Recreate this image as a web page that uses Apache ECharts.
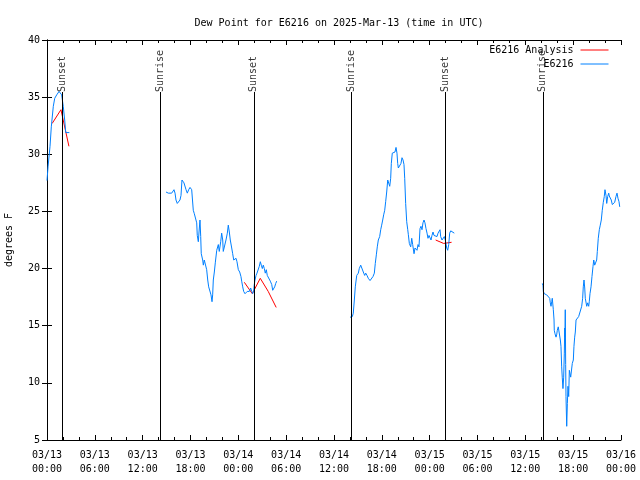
<!DOCTYPE html>
<html>
<head>
<meta charset="utf-8">
<script src="https://cdn.jsdelivr.net/npm/echarts@6/dist/echarts.min.js"></script>
<style>
html,body{margin:0;padding:0;background:#fff;}
#chart{width:640px;height:480px;}
</style>
</head>
<body>
<div id="chart"></div>
<script>
// ---- data (hours since 2025-03-13 00:00 UTC) ----
const tickLabels = ['03/13\n00:00','03/13\n06:00','03/13\n12:00','03/13\n18:00','03/14\n00:00','03/14\n06:00','03/14\n12:00','03/14\n18:00','03/15\n00:00','03/15\n06:00','03/15\n12:00','03/15\n18:00','03/16\n00:00'];

const sunHours = [1.93, 14.25, 25.95, 38.22, 49.97, 62.2];
const sunNames = ['Sunset','Sunrise','Sunset','Sunrise','Sunset','Sunrise'];

const anaHours1 = [0.65, 1.75, 2.75];
const anaVals1  = [32.7, 33.9, 30.7];
const anaHours2 = [24.75, 25.75, 26.75, 27.75, 28.75];
const anaVals2  = [18.8, 17.8, 19.15, 18.0, 16.6];
const anaHours3 = [48.75, 49.75, 50.75];
const anaVals3  = [22.5, 22.2, 22.3];

const obsHours1 = [0.00,0.13,0.38,0.54,0.79,0.97,1.22,1.38,1.51,1.72,1.84,2.04,2.22,2.35,2.55,2.80];
const obsVals1  = [27.7,28.9,30.7,32.4,34.2,34.9,35.2,35.2,35.5,35.5,35.2,34.2,33.0,31.9,31.9,31.9];

const obsHours2 = [14.93,15.22,15.43,15.64,15.93,16.06,16.18,16.34,16.52,16.68,16.81,16.93,17.02,17.18,17.31,17.44,17.60,17.77,17.94,18.15,18.28,18.35,18.48,18.69,18.78,18.85,18.98,19.07,19.19,19.28,19.35,19.53,19.61,19.73,19.94,20.03,20.16,20.28,20.45,20.57,20.70,20.78,20.86,20.99,21.11,21.29,21.49,21.61,21.79,21.91,22.04,22.11,22.33,22.45,22.62,22.74,22.87,22.99,23.17,23.29,23.42,23.58,23.71,23.83,24.00,24.17,24.33,24.42,24.55,24.67,24.84,25.00,25.12,25.25,25.38,25.55,25.68,25.80,25.93,26.00,26.09,26.22,26.34,26.51,26.63,26.76,26.88,27.01,27.13,27.26,27.38,27.51,27.63,27.76,27.88,28.01,28.19,28.31,28.44,28.56,28.69,28.81];
const obsVals2  = [26.7,26.6,26.5,26.6,26.9,26.6,26.0,25.7,25.85,26.0,26.4,27.75,27.9,27.5,27.5,26.9,26.6,26.9,27.1,26.9,26.8,25.1,24.8,24.7,24.0,22.9,22.35,23.2,24.25,22.8,21.3,20.75,20.3,20.75,20.8,19.9,19.0,18.4,18.3,17.7,17.1,17.7,19.0,19.7,20.5,21.6,22.1,21.5,22.35,23.1,22.5,21.5,21.5,22.5,23.1,23.8,23.2,22.5,21.8,21.3,20.75,20.6,20.9,20.6,19.9,19.7,19.3,18.9,18.4,18.0,17.8,17.7,18.0,18.1,18.0,18.3,18.0,17.8,18.1,18.6,19.0,19.4,19.6,19.7,20.2,20.6,20.3,20.0,20.3,20.0,19.6,19.9,19.4,19.3,19.4,18.9,18.6,18.1,18.0,18.4,18.7,18.9];

const obsHours3 = [38.01,38.30,38.42,38.55,38.67,38.85,39.05,39.17,39.35,39.47,39.60,39.73,39.85,39.98,40.14,40.30,40.52,40.73,40.89,41.06,41.18,41.31,41.43,41.56,41.73,41.86,41.98,42.11,42.23,42.36,42.48,42.61,42.74,42.86,42.99,43.11,43.19,43.31,43.49,43.65,43.78,43.90,43.99,44.07,44.28,44.40,44.53,44.66,44.78,44.87,44.99,45.12,45.25,45.32,45.45,45.62,45.75,45.87,46.04,46.16,46.29,46.41,46.54,46.66,46.79,46.91,47.04,47.16,47.29,47.41,47.54,47.67,47.79,47.92,48.04,48.17,48.29,48.42,48.54,48.67,48.79,48.92,49.05,49.17,49.30,49.38,49.55,49.71,49.84,49.96,50.14,50.26,50.39,50.51,50.64,50.84,51.09];
const obsVals3  = [15.74,15.8,16.1,17.25,18.4,19.4,19.6,20.0,20.3,20.45,20.2,19.6,19.4,19.6,19.4,19.15,18.95,19.05,19.3,19.6,20.45,21.2,21.9,22.5,22.8,23.4,23.8,24.25,24.7,25.1,25.85,26.7,27.75,27.6,27.2,27.9,29.2,30.1,30.0,30.2,30.6,30.1,29.2,28.8,28.8,29.2,29.7,29.5,29.1,27.9,25.7,24.1,23.4,23.0,22.2,21.9,22.65,22.1,21.3,21.8,21.9,21.6,22.1,21.9,23.5,23.7,23.4,24.0,24.25,24.0,23.5,23.1,22.65,22.9,22.9,22.5,22.9,23.2,22.9,22.8,22.9,22.8,23.1,23.2,23.4,22.8,22.5,22.65,22.8,22.5,21.8,21.6,22.1,23.1,23.3,23.3,23.1];

const obsHours4 = [62.13,62.22,62.26,62.38,62.68,62.88,63.06,63.13,63.22,63.31,63.38,63.47,63.51,63.60,63.63,63.72,63.85,63.93,64.01,64.13,64.31,64.39,64.47,64.56,64.63,64.72,64.81,64.89,64.94,64.97,65.01,65.06,65.10,65.19,65.27,65.35,65.44,65.52,65.60,65.69,65.82,65.89,66.02,66.10,66.19,66.27,66.36,66.57,66.69,66.86,67.07,67.19,67.27,67.36,67.45,67.52,67.70,67.82,67.95,68.02,68.11,68.24,68.36,68.49,68.58,68.70,68.83,68.95,69.03,69.15,69.28,69.40,69.53,69.65,69.78,69.90,69.99,70.12,70.21,70.33,70.46,70.53,70.66,70.78,70.91,71.03,71.21,71.37,71.50,71.62,71.75,71.84];
const obsVals4  = [18.7,18.5,18.0,17.8,17.7,17.7,17.4,17.0,16.7,17.1,17.4,17.5,16.4,15.5,14.6,14.3,14.0,14.2,14.6,14.9,14.9,13.75,13.2,11.4,10.5,9.5,10.5,12.6,14.8,14.0,16.4,11.6,8.8,6.2,8.2,9.7,8.8,11.1,11.0,10.5,10.5,11.7,12.0,13.2,14.0,14.45,15.5,15.55,15.8,16.2,16.7,17.4,18.4,19.0,18.3,17.4,16.7,17.0,16.7,17.1,17.8,18.4,19.3,20.2,20.75,20.3,20.2,20.75,21.5,22.65,23.4,23.8,24.25,25.1,25.8,26.3,26.9,26.4,25.7,26.3,26.6,26.35,26.4,26.0,25.6,25.7,25.8,26.3,26.6,26.15,25.85,25.4];

// ---- build ----
const FONT = 'DejaVu Sans Mono';
const RED = '#ff0000';
const BLUE = '#0080ff';
const zip = (a, b) => a.map((v, i) => [v, b[i]]);

function lineSeries(name, color, hours, vals, extra) {
  return Object.assign({
    name: name, type: 'line', data: zip(hours, vals),
    symbol: 'none', showSymbol: false, animation: false,
    lineStyle: { color: color, width: 1 }, itemStyle: { color: color },
    xAxisIndex: 0, yAxisIndex: 0, z: 3
  }, extra || {});
}

const SUN_TOP = 35.45;
const sunLineData = sunHours.map(h => [{ coord: [h, 5] }, { coord: [h, SUN_TOP] }]);

const series = [
  lineSeries('E6216 Analysis', RED, anaHours1, anaVals1, {
    markLine: {
      silent: true, symbol: ['none', 'none'], animation: false,
      lineStyle: { color: '#000', width: 1, type: 'solid' },
      label: { show: false },
      data: sunLineData
    }
  }),
  lineSeries('E6216 Analysis', RED, anaHours2, anaVals2),
  lineSeries('E6216 Analysis', RED, anaHours3, anaVals3),
  lineSeries('E6216', BLUE, obsHours1, obsVals1),
  lineSeries('E6216', BLUE, obsHours2, obsVals2),
  lineSeries('E6216', BLUE, obsHours3, obsVals3),
  lineSeries('E6216', BLUE, obsHours4, obsVals4),
  {
    name: 'sun', type: 'scatter', symbolSize: 0, animation: false, silent: true,
    data: sunHours.map((h, i) => ({ value: [h, SUN_TOP], name: sunNames[i] })),
    label: {
      show: true, formatter: p => p.name, rotate: 90, position: [0, 0],
      align: 'left', verticalAlign: 'middle', distance: 0,
      fontFamily: FONT, fontSize: 10, color: '#000'
    },
    z: 4
  }
];

const axisLineStyle = { show: true, lineStyle: { color: '#000', width: 1 } };

const option = {
  animation: false,
  backgroundColor: '#fff',
  title: {
    text: 'Dew Point for E6216 on 2025-Mar-13 (time in UTC)',
    left: 334, top: 13, textAlign: 'center',
    textStyle: { fontFamily: FONT, fontSize: 10, fontWeight: 'normal', color: '#000' }
  },
  legend: {
    data: [
      { name: 'E6216 Analysis', itemStyle: { opacity: 0 }, lineStyle: { color: RED, width: 1 } },
      { name: 'E6216', itemStyle: { opacity: 0 }, lineStyle: { color: BLUE, width: 1 } }
    ],
    orient: 'vertical', align: 'right', right: 31, top: 45, padding: 0,
    itemWidth: 28, itemHeight: 12, itemGap: 4,
    selectedMode: false,
    textStyle: { fontFamily: FONT, fontSize: 10, color: '#000', padding: [0, 2, 0, 0] }
  },
  grid: { left: 47, right: 19, top: 40, bottom: 40, containLabel: false, outerBoundsMode: 'none' },
  xAxis: [
    {
      type: 'value', min: 0, max: 72, interval: 6, position: 'bottom',
      axisLine: axisLineStyle,
      axisTick: { show: true, inside: true, length: 5, lineStyle: { color: '#000' } },
      minorTick: { show: true, splitNumber: 3, length: 3, lineStyle: { color: '#000' } },
      splitLine: { show: false },
      axisLabel: {
        show: true, margin: 8, fontFamily: FONT, fontSize: 10, color: '#000', lineHeight: 14,
        formatter: v => tickLabels[Math.round(v / 6)]
      }
    },
    {
      type: 'value', min: 0, max: 72, interval: 6, position: 'top',
      axisLine: axisLineStyle,
      axisTick: { show: true, inside: true, length: 5, lineStyle: { color: '#000' } },
      minorTick: { show: true, splitNumber: 3, length: 3, lineStyle: { color: '#000' } },
      splitLine: { show: false },
      axisLabel: { show: false }
    }
  ],
  yAxis: [
    {
      type: 'value', min: 5, max: 40, interval: 5, position: 'left',
      name: 'degrees F', nameLocation: 'middle', nameGap: 33, nameRotate: 90,
      nameTextStyle: { fontFamily: FONT, fontSize: 10, color: '#000' },
      axisLine: axisLineStyle,
      axisTick: { show: true, inside: true, length: 5, lineStyle: { color: '#000' } },
      splitLine: { show: false },
      axisLabel: { margin: 7, fontFamily: FONT, fontSize: 10, color: '#000' }
    },
    {
      type: 'value', min: 5, max: 40, interval: 5, position: 'right',
      axisLine: axisLineStyle,
      axisTick: { show: true, inside: true, length: 5, lineStyle: { color: '#000' } },
      splitLine: { show: false },
      axisLabel: { show: false }
    }
  ],
  series: series
};

const chart = echarts.init(document.getElementById('chart'), null, { renderer: 'canvas' });
chart.setOption(option);
</script>
</body>
</html>
